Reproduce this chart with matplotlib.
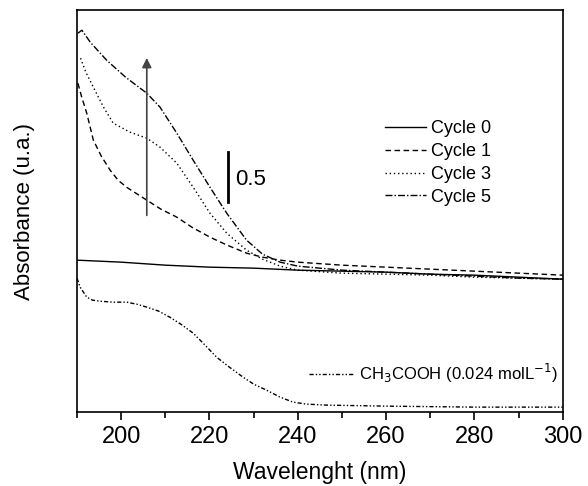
import matplotlib.pyplot as plt
from matplotlib.ticker import MultipleLocator

plt.rcParams['font.family'] = ['Liberation Sans', 'DejaVu Sans']

# wavelength (nm) and absorbance (a.u.)
wl_c0 = [190, 200, 210, 220, 230, 240, 250, 260, 270, 280, 290, 300]
abs_c0 = [1.52, 1.50, 1.47, 1.45, 1.44, 1.42, 1.41, 1.40, 1.38, 1.37, 1.35, 1.33]

wl_c1 = [190.2, 191, 192.2, 193.7, 195.5, 197.5, 199.3, 201.2, 205.8, 209, 212.6, 216, 220.1,
         224, 228.4, 232, 236, 240, 250, 260, 270, 280, 290, 300]
abs_c1 = [3.29, 3.16, 2.99, 2.72, 2.56, 2.42, 2.32, 2.25, 2.12, 2.03, 1.95, 1.85, 1.75,
          1.67, 1.59, 1.55, 1.52, 1.50, 1.47, 1.45, 1.43, 1.41, 1.39, 1.37]

wl_c3 = [190.8, 192, 193.7, 196, 198.2, 202, 205.8, 208.8, 212.6, 216.3, 220.1, 223.9,
         228.4, 232, 236, 240, 250, 260, 270, 280, 290, 300]
abs_c3 = [3.54, 3.40, 3.25, 3.05, 2.89, 2.80, 2.74, 2.65, 2.49, 2.25, 1.99, 1.79,
          1.62, 1.53, 1.46, 1.42, 1.39, 1.38, 1.37, 1.35, 1.34, 1.33]

wl_c5 = [190.2, 191.1, 193, 196.7, 201, 205.8, 208.8, 212.6, 216.3, 220.1, 223.9, 228.4,
         232, 236, 240, 250, 260, 270, 280, 290, 300]
abs_c5 = [3.79, 3.82, 3.70, 3.52, 3.35, 3.19, 3.05, 2.79, 2.52, 2.25, 1.99, 1.72,
          1.58, 1.50, 1.46, 1.42, 1.40, 1.38, 1.36, 1.34, 1.33]

wl_ac = [190, 190.7, 192.2, 193.5, 195.2, 198, 201.2, 203.5, 205.8, 208.5, 211, 213.5, 216.3,
         219, 221.6, 224.5, 227.6, 230, 232.9, 236, 238.9, 242, 246.6, 260, 280, 300]
abs_ac = [1.34, 1.25, 1.15, 1.12, 1.11, 1.10, 1.10, 1.08, 1.05, 1.01, 0.95, 0.88, 0.79,
          0.67, 0.55, 0.45, 0.35, 0.28, 0.22, 0.15, 0.10, 0.08, 0.07, 0.06, 0.05, 0.05]

fig = plt.figure(figsize=(5.88, 4.86), dpi=100)
ax = fig.add_axes([0.131, 0.152, 0.826, 0.827])

l0, = ax.plot(wl_c0, abs_c0, color='black', lw=1.0, ls='-', label='Cycle 0')
l1, = ax.plot(wl_c1, abs_c1, color='black', lw=1.0, ls=(0, (4, 2.5)), label='Cycle 1')
l3, = ax.plot(wl_c3, abs_c3, color='black', lw=1.0, ls=(0, (1, 2)), label='Cycle 3')
l5, = ax.plot(wl_c5, abs_c5, color='black', lw=1.0, ls=(0, (5, 1.5, 1, 1.5)), label='Cycle 5')
la, = ax.plot(wl_ac, abs_ac, color='black', lw=1.0, ls=(0, (3, 1.5, 1, 1.5, 1, 1.5)),
              label='CH$_3$COOH (0.024 molL$^{-1}$)')

leg1 = ax.legend(handles=[l0, l1, l3, l5], loc='upper left', bbox_to_anchor=(0.634, 0.726),
                 frameon=False, fontsize=13, handlelength=2.3, handletextpad=0.25,
                 labelspacing=0.32, borderpad=0, borderaxespad=0)
ax.add_artist(leg1)
ax.legend(handles=[la], loc='center right', bbox_to_anchor=(0.99, 0.097), frameon=False,
          fontsize=12, handlelength=2.7, handletextpad=0.3, borderpad=0, borderaxespad=0)

# arrow
ax.annotate('', xy=(205.8, 3.57), xytext=(205.8, 1.94),
            arrowprops=dict(arrowstyle='-|>', color='#444444', lw=1.2, mutation_scale=14))
# scale bar
ax.plot([224.2, 224.2], [2.10, 2.60], color='black', lw=2)
ax.text(225.8, 2.33, '0.5', fontsize=16, va='center', ha='left')

ax.set_xlim(190, 300)
ax.set_ylim(0, 4.02)
ax.set_yticks([])
ax.xaxis.set_major_locator(MultipleLocator(20))
ax.xaxis.set_minor_locator(MultipleLocator(10))
ax.tick_params(axis='x', which='major', direction='out', length=6, width=1.2, labelsize=17, pad=4)
ax.tick_params(axis='x', which='minor', direction='out', length=4, width=1.2)
for s in ax.spines.values():
    s.set_linewidth(1.2)

ax.set_xlabel('Wavelenght (nm)', fontsize=16.5, labelpad=9)
ax.set_ylabel('Absorbance (u.a.)', fontsize=16, labelpad=30)

plt.savefig('out.png', dpi=100)
